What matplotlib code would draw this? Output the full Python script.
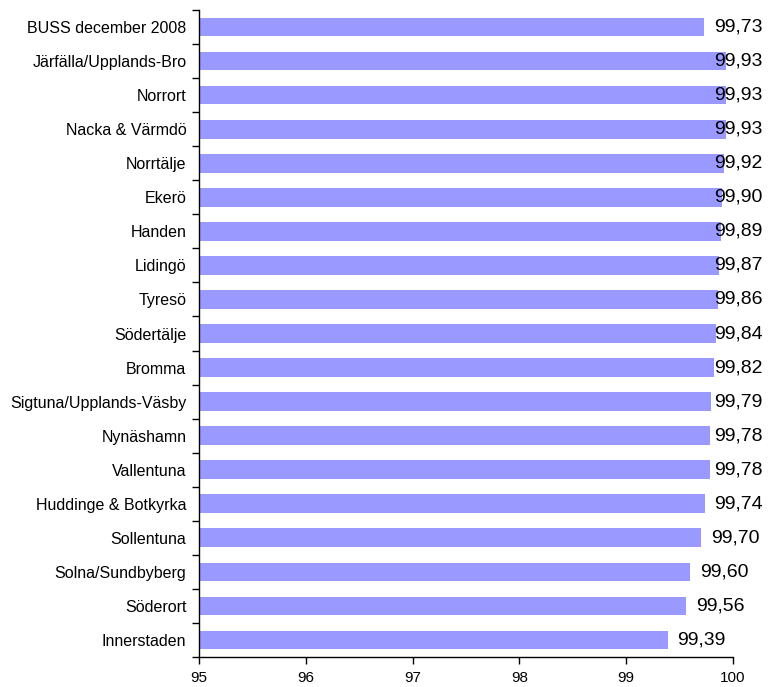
import numpy as np
import matplotlib
matplotlib.use("Agg")
import matplotlib.pyplot as plt
from matplotlib.ticker import FixedLocator

plt.rcParams["font.family"] = ["Liberation Sans", "DejaVu Sans"]

# ordered top to bottom
areas = ["BUSS december 2008", "Järfälla/Upplands-Bro", "Norrort", "Nacka & Värmdö",
         "Norrtälje", "Ekerö", "Handen", "Lidingö", "Tyresö", "Södertälje", "Bromma",
         "Sigtuna/Upplands-Väsby", "Nynäshamn", "Vallentuna", "Huddinge & Botkyrka",
         "Sollentuna", "Solna/Sundbyberg", "Söderort", "Innerstaden"]
values = [99.73, 99.93, 99.93, 99.93, 99.92, 99.90, 99.89, 99.87, 99.86, 99.84, 99.82,
          99.79, 99.78, 99.78, 99.74, 99.70, 99.60, 99.56, 99.39]
xticks = [95, 96, 97, 98, 99, 100]

fig = plt.figure(figsize=(7.7, 6.87), dpi=100)
ax = fig.add_axes([199 / 770, 1 - 657 / 687, 534 / 770, 647 / 687])

y = np.arange(len(areas))
ax.barh(y, np.array(values) - 95, left=95, height=0.55, color="#9999ff")
ax.set_xlim(95, 100)
ax.set_ylim(len(areas) - 0.5, -0.5)

# value labels sit just right of the bar, but never past the right edge
label_cap = 99.73
for yi, v in zip(y, values):
    ax.annotate(f"{v:.2f}".replace(".", ","), (min(v, label_cap), yi),
                xytext=(7, 0), textcoords="offset points",
                ha="left", va="center", fontsize=14, annotation_clip=False)

ax.set_xticks(xticks)
ax.set_xticklabels([str(t) for t in xticks], fontsize=11)
ax.tick_params(axis="x", direction="out", length=5, width=1, pad=5)

ax.set_yticks(y)
ax.set_yticklabels(areas, fontsize=11.5)
ax.yaxis.set_minor_locator(FixedLocator(np.arange(-0.5, len(areas), 1.0)))
ax.tick_params(axis="y", which="major", length=0, pad=9)
ax.tick_params(axis="y", which="minor", direction="out", length=5, width=1)

for s in ("top", "right"):
    ax.spines[s].set_visible(False)
for s in ("left", "bottom"):
    ax.spines[s].set_linewidth(1)

fig.savefig("out.png", dpi=100)
